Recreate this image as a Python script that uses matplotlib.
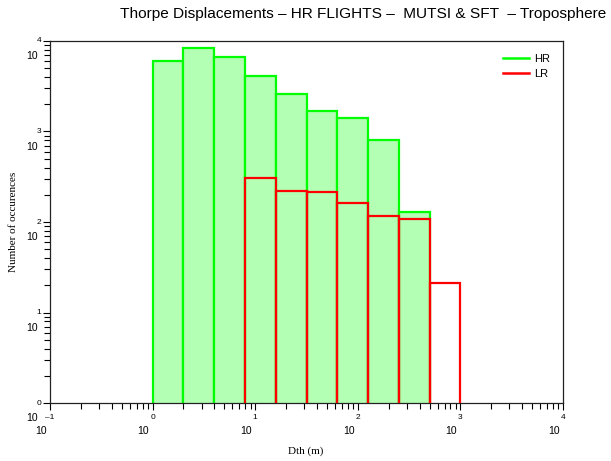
import numpy as np
import matplotlib
matplotlib.use('Agg')
import matplotlib.pyplot as plt
import matplotlib.transforms as mtrans

# bin edges are 10**(0.3*k)
edge_exp = [0.0, 0.3, 0.6, 0.9, 1.2, 1.5, 1.8, 2.1, 2.4, 2.7, 3.0]
hr_counts = [6000, 8300, 6670, 4070, 2620, 1700, 1400, 803, 128, 0]
lr_counts = [0, 0, 0, 303, 221, 212, 164, 116, 109, 21]
xdecades = [-1, 0, 1, 2, 3, 4]
ydecades = [0, 1, 2, 3, 4]

edges = 10.0 ** np.array(edge_exp)
left, widths = edges[:-1], np.diff(edges)

fig = plt.figure(figsize=(6.11, 4.61), dpi=100)
ax = fig.add_axes([50 / 611, 1 - 403 / 461, 513 / 611, 362 / 461])
ax.set_xscale('log')
ax.set_yscale('log')

ax.bar(left, hr_counts, width=widths, align='edge', color='#b3ffb3',
       edgecolor='#00ff00', linewidth=1.6, label='HR', zorder=2)
lr = np.array(lr_counts)
ax.bar(left[lr > 0], lr[lr > 0], width=widths[lr > 0], align='edge',
       fill=False, edgecolor='#ff0000', linewidth=1.6, label='LR', zorder=3)

ax.set_xlim(1e-1, 1e4)
ax.set_ylim(1, 1e4)

# ticks: outward, no labels (labels drawn as "10" + raised exponent)
ax.tick_params(which='both', direction='out', top=False, right=False,
               labelbottom=False, labelleft=False, color='black')
ax.tick_params(which='major', length=5, width=0.8)
ax.tick_params(which='minor', length=4, width=0.8)
for s in ax.spines.values():
    s.set_color('#222222')
    s.set_linewidth(0.9)

tfont = dict(family='Liberation Sans', color='black')
xt = mtrans.blended_transform_factory(ax.transData, fig.transFigure)
for d in xdecades:
    ex = '\u20131' if d < 0 else str(d)
    ax.text(10.0 ** d, 1 - 417 / 461, ex, transform=xt, ha='center',
            va='center', fontsize=6, **tfont)
    ax.text(10.0 ** d * 10 ** -0.09, 1 - 431 / 461, '10', transform=xt,
            ha='center', va='center', fontsize=7.5, **tfont)
yt = mtrans.blended_transform_factory(fig.transFigure, ax.transData)
for d in ydecades:
    ax.text(39 / 611, 10.0 ** d, str(d), transform=yt,
            ha='center', va='center', fontsize=6, **tfont)
    ax.text(32 / 611, 10.0 ** d * 10 ** -0.17, '10', transform=yt,
            ha='center', va='center', fontsize=7.5, **tfont)

fig.text(363 / 611, 1 - 14 / 461,
         'Thorpe Displacements \u2013 HR FLIGHTS \u2013  MUTSI & SFT  \u2013 Troposphere',
         ha='center', va='center', fontsize=11.1, **tfont)
fig.text(306 / 611, 1 - 451 / 461, 'Dth (m)', ha='center', va='center',
         fontsize=8, family='Liberation Serif')
fig.text(14 / 611, 1 - 222 / 461, 'Number of occurences', ha='center',
         va='center', rotation=90, fontsize=8, family='Liberation Serif')

leg = ax.legend(handles=[plt.Line2D([], [], color='#00ff00', lw=1.8),
                         plt.Line2D([], [], color='#ff0000', lw=1.8)],
                labels=['HR', 'LR'], loc='upper right', frameon=False,
                prop={'family': 'Liberation Sans', 'size': 8},
                handlelength=2.3, handletextpad=0.5, labelspacing=0.45,
                borderpad=0.2, bbox_to_anchor=(0.99, 0.985))

fig.savefig('out.png', dpi=100)
